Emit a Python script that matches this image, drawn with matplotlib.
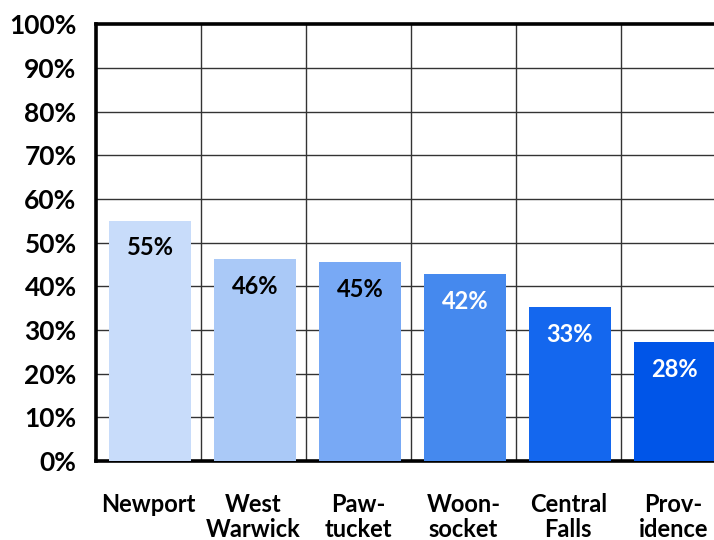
import matplotlib.pyplot as plt

# --- data ---
cities = ['Newport', 'West\nWarwick', 'Paw-\ntucket', 'Woon-\nsocket', 'Central\nFalls', 'Prov-\nidence']
bar_heights = [55.0, 46.2, 45.5, 42.8, 35.2, 27.2]   # percent (drawn height)
bar_labels = ['55%', '46%', '45%', '42%', '33%', '28%']
colors = ['#C8DCFA', '#AAC9F7', '#78A9F5', '#4589EE', '#1467EE', '#0055E8']
label_colors = ['black', 'black', 'black', 'white', 'white', 'white']
yticks = list(range(0, 101, 10))
# ---------------------------------

plt.rcParams['font.family'] = ['Lato', 'DejaVu Sans']
plt.rcParams['font.weight'] = 'bold'

fig = plt.figure(figsize=(7.14, 5.40), dpi=100)
ax = fig.add_axes([0.1345, 0.1463, 0.882, 0.809])

x = list(range(len(cities)))
# bars sit a hair right of the category centre in the original
bars = ax.bar([i + 0.015 for i in x], bar_heights, width=0.78, color=colors, zorder=3)

for bar, lab, c in zip(bars, bar_labels, label_colors):
    ax.text(bar.get_x() + bar.get_width() / 2, bar.get_height() - 6.2, lab,
            ha='center', va='center', color=c, fontsize=17, fontweight='bold', zorder=4)

ax.set_xlim(-0.5, len(cities) - 0.5)
ax.set_ylim(0, 100)
ax.set_yticks(yticks)
ax.set_yticklabels([f'{t}%' for t in yticks], fontsize=19, fontweight='bold')
ax.set_xticks(x)
ax.set_xticklabels(cities, fontsize=17, fontweight='bold', linespacing=1.1)
ax.tick_params(axis='both', length=0)
ax.tick_params(axis='y', pad=14)
ax.tick_params(axis='x', pad=23)

# grid: horizontal lines at each 10%, vertical lines between categories
for t in yticks[1:-1]:
    ax.axhline(t, color='#333333', linewidth=1.0, zorder=1)
for b in x[:-1]:
    ax.axvline(b + 0.5, color='#333333', linewidth=1.0, zorder=1)

for side in ['left', 'top', 'bottom']:
    ax.spines[side].set_linewidth(2.6)
    ax.spines[side].set_color('black')
ax.spines['right'].set_visible(False)

fig.savefig('out.png', dpi=100)
